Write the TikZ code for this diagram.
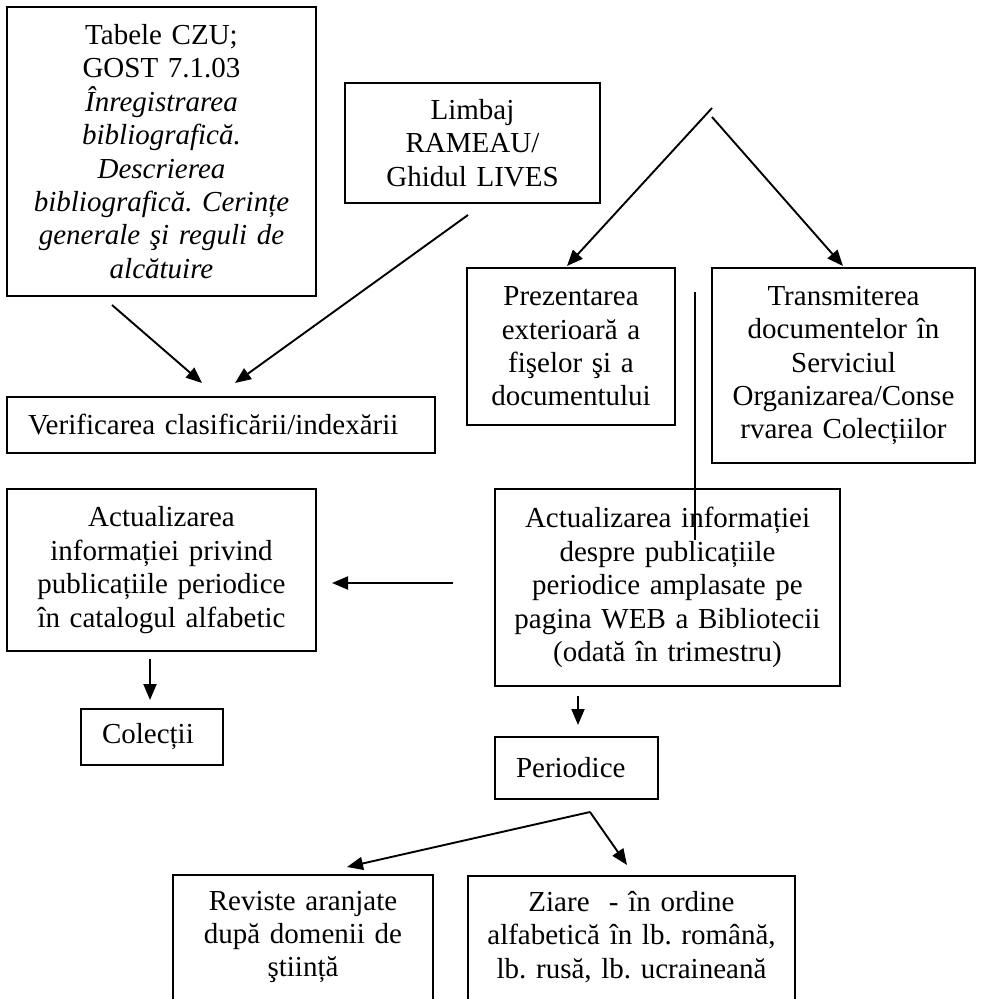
\documentclass[tikz,border=0pt]{standalone}
\usepackage{fontspec}
\setmainfont{Liberation Serif}
\usetikzlibrary{arrows.meta}
\frenchspacing
\tikzset{
  box/.style={draw, line width=1.7pt, rectangle, inner sep=0pt, align=center, font=\frenchspacing\fontsize{29pt}{33.4pt}\selectfont},
  lbox/.style={box, align=left},
  openbox/.style={draw, line width=1.7pt, rectangle, inner sep=0pt, anchor=north},
  txt/.style={inner sep=0pt, align=center, font=\frenchspacing\fontsize{29pt}{33.4pt}\selectfont},
  arr/.style={line width=1.9pt, -{Triangle[length=16pt,width=13pt]}},
  ln/.style={line width=1.9pt},
}
\begin{document}
\begin{tikzpicture}[x=1pt,y=-1pt]
\useasboundingbox (0,0) rectangle (982,999);
\clip (0,0) rectangle (982,999);

% boxes
\node[box, minimum width=309pt, minimum height=289pt, text width=290pt] (tabele) at (161.5,151.5)
  {Tabele CZU;\\GOST 7.1.03\\\textit{Înregistrarea}\\\textit{bibliografică.}\\\textit{Descrierea}\\\textit{bibliografică. Cerințe}\\\textit{generale şi reguli de}\\\textit{alcătuire}};
\node[box, minimum width=255pt, minimum height=120pt, text width=235pt] (limbaj) at (472.5,143)
  {Limbaj\\RAMEAU/\\Ghidul LIVES};
\node[box, minimum width=208pt, minimum height=157pt, text width=190pt] (prez) at (571,346.5)
  {Prezentarea\\exterioară a\\fişelor şi a\\documentului};
\node[box, minimum width=263pt, minimum height=195pt, text width=245pt] (trans) at (843.5,365.5)
  {Transmiterea\\documentelor în\\Serviciul\\Organizarea/Conse\\rvarea Colecțiilor};
\node[lbox, minimum width=428pt, minimum height=56pt, text width=386pt] (verif) at (221,425)
  {Verificarea clasificării/indexării};
\node[box, minimum width=309pt, minimum height=162pt, text width=290pt] (act1) at (161.5,570)
  {Actualizarea\\informației privind\\publicațiile periodice\\în catalogul alfabetic};
\node[box, minimum width=345pt, minimum height=197pt, text width=325pt] (act2) at (667.5,587.5)
  {Actualizarea informației\\despre publicațiile\\periodice amplasate pe\\pagina WEB a Bibliotecii\\(odată în trimestru)};
\node[lbox, minimum width=142pt, minimum height=56pt, text width=100pt] (colectii) at (152,737)
  {Colecții};
\node[lbox, minimum width=163pt, minimum height=62pt, text width=121pt] (period) at (576.5,768)
  {Periodice};
\node[openbox, minimum width=260pt, minimum height=170pt] (reviste) at (303,874) {};
\node[txt, text width=240pt] (revistetxt) at (303,937) {Reviste aranjate\\după domenii de\\ştiință};
\node[openbox, minimum width=327pt, minimum height=170pt] (ziare) at (631.5,875) {};
\node[txt, text width=310pt] (ziaretxt) at (631.5,937) {Ziare~ - în ordine\\alfabetică în lb. română,\\lb. rusă, lb. ucraineană};

% connector end points
\coordinate (t1s) at (112,305);   \coordinate (t1e) at (202,383);
\coordinate (l1s) at (468,215);   \coordinate (l1e) at (235,383);
\coordinate (apL) at (712,108);   \coordinate (apR) at (712,117);
\coordinate (prezTip) at (567,266); \coordinate (transTip) at (843,266);
\coordinate (vTop) at (695,292);  \coordinate (vBot) at (695,540);
\coordinate (hs) at (453,583);    \coordinate (he) at (332,583);
\coordinate (d1s) at (150,659);   \coordinate (d1e) at (150,700);
\coordinate (d2s) at (578,696);   \coordinate (d2e) at (578,725);
\coordinate (apP) at (590,812);
\coordinate (revTip) at (347,867); \coordinate (ziTip) at (627,865);

% connectors
\draw[arr] (t1s) -- (t1e);
\draw[arr] (l1s) -- (l1e);
\draw[arr] (apL) -- (prezTip);
\draw[arr] (apR) -- (transTip);
\draw[ln] (vTop) -- (vBot);
\draw[arr] (hs) -- (he);
\draw[arr] (d1s) -- (d1e);
\draw[arr] (d2s) -- (d2e);
\draw[arr] (apP) -- (revTip);
\draw[arr] (apP) -- (ziTip);
\end{tikzpicture}
\end{document}
